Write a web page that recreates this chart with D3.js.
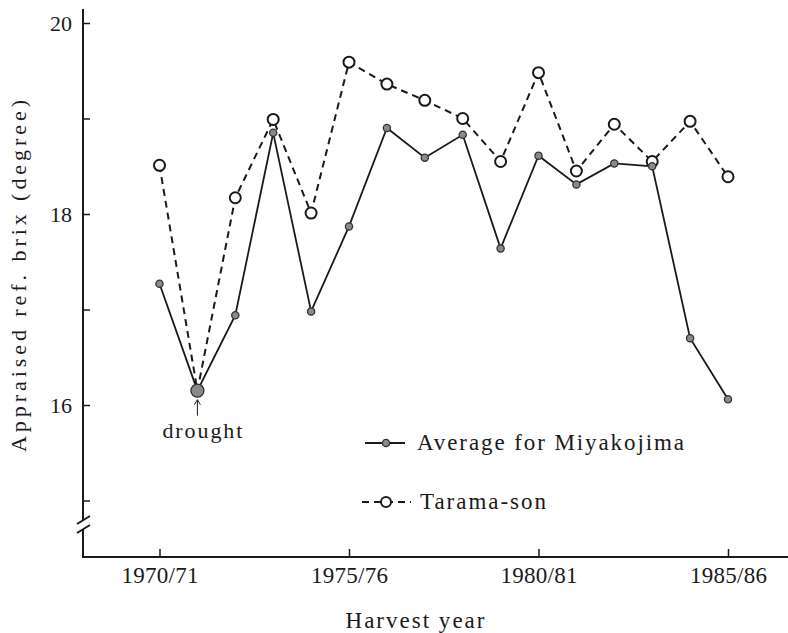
<!DOCTYPE html>
<html>
<head>
<meta charset="utf-8">
<script src="https://cdn.jsdelivr.net/npm/d3@7"></script>
<style>
  html, body { margin: 0; padding: 0; background: #fff; }
  svg text { font-family: "Liberation Serif", "Times New Roman", Times, Tinos, "Nimbus Roman", "DejaVu Serif", "Noto Serif", serif !important; }
</style>
</head>
<body>
<div id="chart"></div>
<script>
// harvest years (first year of each season)
const years = [1970, 1971, 1972, 1973, 1974, 1975, 1976, 1977, 1978, 1979, 1980, 1981, 1982, 1983, 1984, 1985];
const tickYears = [1970, 1975, 1980, 1985];
const tickYearLabels = ['1970/71', '1975/76', '1980/81', '1985/86'];

// appraised ref. brix (degree)
const miyakojima = [17.27, 16.15, 16.94, 18.85, 16.98, 17.87, 18.90, 18.59, 18.83, 17.64, 18.61, 18.31, 18.53, 18.50, 16.70, 16.06];
const tarama = [18.51, 16.15, 18.17, 18.99, 18.01, 19.59, 19.36, 19.19, 19.00, 18.55, 19.48, 18.45, 18.94, 18.55, 18.97, 18.39];

const yTicks = [15, 16, 17, 18, 19, 20];
const yLabelTicks = [16, 18, 20];
const legendLabels = ['Average for Miyakojima', 'Tarama-son'];
const droughtYear = 1971;

const SETTING = {
  width: 788,
  height: 633,
  axisX: 83,
  axisY: 557,
  axisTop: 9,
  ink: '#1a1a1a',
};

const svg = d3.select('#chart').append('svg')
  .attr('width', SETTING.width)
  .attr('height', SETTING.height)
  .style('display', 'block');

const x = d3.scaleLinear().domain([1970, 1985]).range([159.5, 728]);
const y = d3.scaleLinear().domain([15, 20]).range([500.5, 23]);

// y axis line with a break near the bottom
const breakTop = 520;
const breakBottom = 529;
svg.append('line')
  .attr('x1', SETTING.axisX).attr('x2', SETTING.axisX)
  .attr('y1', SETTING.axisTop).attr('y2', breakTop)
  .attr('stroke', SETTING.ink).attr('stroke-width', 2);
svg.append('line')
  .attr('x1', SETTING.axisX).attr('x2', SETTING.axisX)
  .attr('y1', breakBottom).attr('y2', SETTING.axisY + 1)
  .attr('stroke', SETTING.ink).attr('stroke-width', 2);
[breakTop, breakBottom].forEach((by) => {
  svg.append('line')
    .attr('x1', SETTING.axisX - 6).attr('y1', by + 4)
    .attr('x2', SETTING.axisX + 7).attr('y2', by - 4)
    .attr('stroke', SETTING.ink).attr('stroke-width', 2);
});

// y ticks (inward) and labels
svg.append('g')
  .attr('transform', `translate(${SETTING.axisX},0)`)
  .call(d3.axisRight(y).tickValues(yTicks).tickSize(7).tickFormat(''))
  .call((g) => g.select('.domain').remove())
  .call((g) => g.selectAll('line').attr('stroke', SETTING.ink).attr('stroke-width', 1.5));

svg.append('g')
  .attr('transform', `translate(${SETTING.axisX},0)`)
  .call(d3.axisLeft(y).tickValues(yLabelTicks).tickSize(0).tickPadding(11).tickFormat(d3.format('d')))
  .call((g) => g.select('.domain').remove())
  .call((g) => g.selectAll('text')
    .attr('font-size', 22)
    .attr('fill', SETTING.ink));

// x axis line, ticks and labels
svg.append('line')
  .attr('x1', SETTING.axisX - 1).attr('x2', SETTING.width)
  .attr('y1', SETTING.axisY).attr('y2', SETTING.axisY)
  .attr('stroke', SETTING.ink).attr('stroke-width', 2);

svg.append('g')
  .attr('transform', `translate(0,${SETTING.axisY})`)
  .call(d3.axisTop(x).tickValues(tickYears).tickSize(8).tickFormat(''))
  .call((g) => g.select('.domain').remove())
  .call((g) => g.selectAll('line').attr('stroke', SETTING.ink).attr('stroke-width', 1.5));

svg.append('g')
  .attr('transform', `translate(0,${SETTING.axisY})`)
  .call(d3.axisBottom(x).tickValues(tickYears).tickSize(0).tickPadding(10)
    .tickFormat((d, i) => tickYearLabels[i]))
  .call((g) => g.select('.domain').remove())
  .call((g) => g.selectAll('text')
    .attr('font-size', 23)
    .attr('textLength', 77)
    .attr('lengthAdjust', 'spacing')
    .attr('fill', SETTING.ink));

// axis titles
svg.append('text')
  .attr('x', 415).attr('y', 628)
  .attr('text-anchor', 'middle')
  .attr('font-size', 23)
  .attr('textLength', 139)
  .attr('lengthAdjust', 'spacing')
  .attr('fill', SETTING.ink)
  .text('Harvest year');

svg.append('text')
  .attr('transform', 'translate(26,276) rotate(-90)')
  .attr('text-anchor', 'middle')
  .attr('font-size', 22)
  .attr('textLength', 352)
  .attr('lengthAdjust', 'spacing')
  .attr('fill', SETTING.ink)
  .text('Appraised ref. brix (degree)');

// lines
const line = d3.line()
  .x((d, i) => x(years[i]))
  .y((d) => y(d));

svg.append('path')
  .datum(tarama)
  .attr('d', line)
  .attr('fill', 'none')
  .attr('stroke', SETTING.ink)
  .attr('stroke-width', 2)
  .attr('stroke-dasharray', '7,5');

svg.append('path')
  .datum(miyakojima)
  .attr('d', line)
  .attr('fill', 'none')
  .attr('stroke', SETTING.ink)
  .attr('stroke-width', 1.8);

// markers: open circles under the filled ones
svg.append('g')
  .selectAll('circle')
  .data(tarama)
  .enter()
  .append('circle')
  .attr('cx', (d, i) => x(years[i]))
  .attr('cy', (d) => y(d))
  .attr('r', 5.5)
  .attr('fill', '#fff')
  .attr('stroke', SETTING.ink)
  .attr('stroke-width', 2);

svg.append('g')
  .selectAll('circle')
  .data(miyakojima)
  .enter()
  .append('circle')
  .attr('cx', (d, i) => x(years[i]))
  .attr('cy', (d) => y(d))
  .attr('r', (d, i) => (years[i] === droughtYear ? 6.5 : 3.6))
  .attr('fill', '#8a8a8a')
  .attr('stroke', '#333')
  .attr('stroke-width', 1.3);

// drought annotation
const dIdx = years.indexOf(droughtYear);
const dx = x(droughtYear);
const dy = y(miyakojima[dIdx]);
svg.append('line')
  .attr('x1', dx).attr('x2', dx)
  .attr('y1', dy + 10).attr('y2', dy + 25)
  .attr('stroke', SETTING.ink).attr('stroke-width', 1);
svg.append('path')
  .attr('d', `M${dx - 3},${dy + 14} L${dx},${dy + 9} L${dx + 3},${dy + 14}`)
  .attr('fill', 'none')
  .attr('stroke', SETTING.ink).attr('stroke-width', 1);
svg.append('text')
  .attr('x', dx + 5).attr('y', dy + 47)
  .attr('text-anchor', 'middle')
  .attr('font-size', 22)
  .attr('textLength', 80)
  .attr('lengthAdjust', 'spacing')
  .attr('fill', SETTING.ink)
  .text('drought');

// legend
const legend = svg.append('g');
const legendRows = [
  { label: legendLabels[0], y: 443, dash: null, x1: 365, x2: 405, textX: 417, textLen: 267 },
  { label: legendLabels[1], y: 502, dash: '7,5', x1: 362, x2: 411, textX: 420, textLen: 126 },
];
legendRows.forEach((row, i) => {
  legend.append('line')
    .attr('x1', row.x1).attr('x2', row.x2)
    .attr('y1', row.y).attr('y2', row.y)
    .attr('stroke', SETTING.ink)
    .attr('stroke-width', 2)
    .attr('stroke-dasharray', row.dash);
  legend.append('circle')
    .attr('cx', 386).attr('cy', row.y)
    .attr('r', i === 0 ? 3.6 : 5)
    .attr('fill', i === 0 ? '#8a8a8a' : '#fff')
    .attr('stroke', i === 0 ? '#333' : SETTING.ink)
    .attr('stroke-width', i === 0 ? 1.3 : 2);
  legend.append('text')
    .attr('x', row.textX).attr('y', row.y + 7)
    .attr('font-size', 23)
    .attr('textLength', row.textLen)
    .attr('lengthAdjust', 'spacing')
    .attr('fill', SETTING.ink)
    .text(row.label);
});
</script>
</body>
</html>
